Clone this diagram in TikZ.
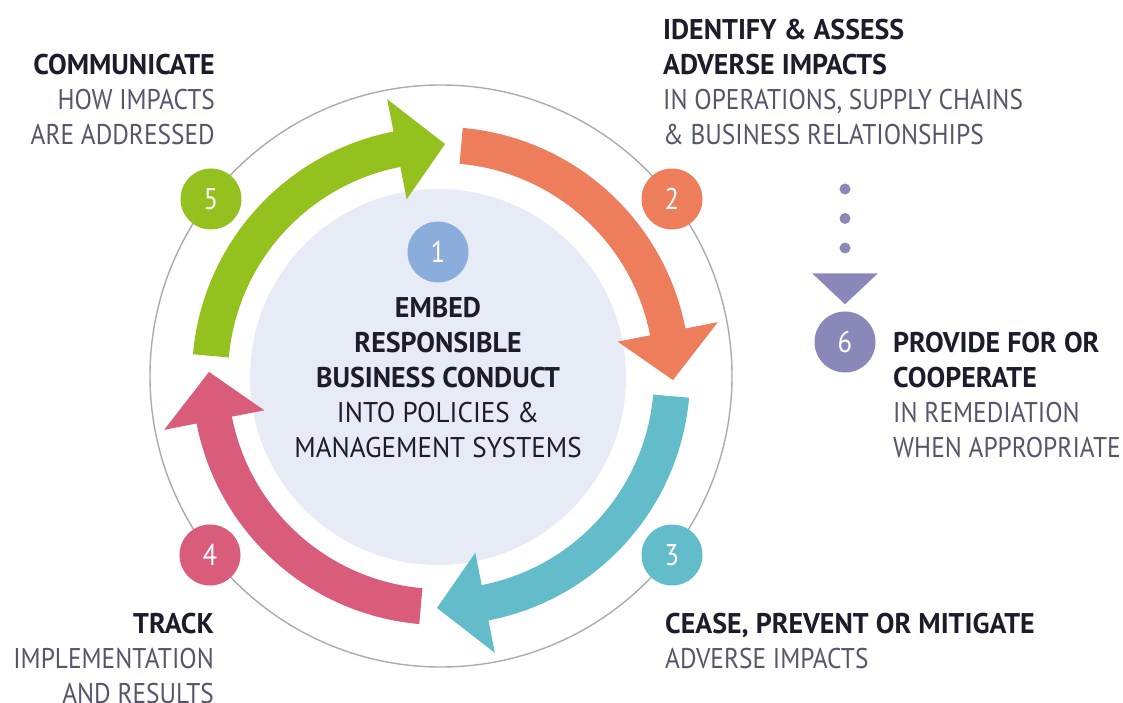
\documentclass[tikz,border=0pt]{standalone}
\usepackage{fontspec}
\setmainfont{PT Sans}[FakeStretch=0.89, BoldFeatures={FakeStretch=0.98}]
\newfontfamily\midfont{PT Sans}[FakeStretch=0.95]
\usepackage{xcolor}
\usetikzlibrary{arrows.meta, positioning, calc}
\definecolor{stepgreen}{HTML}{95C11F}
\definecolor{steporange}{HTML}{EE7D5B}
\definecolor{stepteal}{HTML}{62BCC9}
\definecolor{steppink}{HTML}{D95D7B}
\definecolor{stepblue}{HTML}{8AADDC}
\definecolor{steppurple}{HTML}{8A88B9}
\definecolor{discblue}{HTML}{E6EBF6}
\definecolor{ringgray}{HTML}{ABABAB}
\definecolor{headcol}{HTML}{1C1C2B}
\definecolor{bodycol}{HTML}{55566A}
\newcommand{\hd}[1]{{\bfseries\color{headcol}#1}}

\begin{document}
\begin{tikzpicture}[
    x=1pt, y=1pt,
    >={Triangle[width=64pt, length=31pt]},
    % Node styles
    num/.style={circle, minimum size=61pt, inner sep=0pt, text=white,
                font=\fontsize{30}{30}\selectfont},
    blurb/.style={font=\fontsize{28.5}{35}\selectfont, text=bodycol, inner sep=0pt},
    ring/.style={ringgray, line width=1.4pt},
    dots/.style={steppurple, line width=11pt, line cap=round, dash pattern=on 0pt off 29.5pt, ->}
]
\useasboundingbox (0,0) rectangle (1123,702);

\coordinate (c) at (441,326);

% Outer ring and inner disc
\draw[ring] (c) circle[radius=291pt];
\fill[discblue] (438,325) circle[radius=188pt];

% Cycle arrows
\foreach \a/\col [evaluate=\a as \b using \a-74, evaluate=\a as \t using \a-86]
    in {175/stepgreen, 85/steporange, -5/stepteal, -95/steppink}
    \fill[\col, shift={(c)}] (\a:249pt) arc[start angle=\a, end angle=\b, radius=249pt]
        -- (\b:282pt) -- (\t:232pt) -- (\b:180pt) -- (\b:213pt)
        arc[start angle=\b, end angle=\a, radius=213pt] -- cycle;

% Step numbers
\node (one) [num, fill=stepblue] at (438,450) {1};
\node (two) [num, fill=steporange] at (672,503) {2};
\node (three) [num, fill=stepteal] at (672,147) {3};
\node (four) [num, fill=steppink] at (210,147) {4};
\node (five) [num, fill=stepgreen] at (211,503) {5};
\node (six) [num, fill=steppurple] at (845,360) {6};

% Texts (anchored on the baseline of their last line)
\node (embed) [blurb, text=headcol, align=center, anchor=base] at (438,245)
    {\bfseries EMBED\\\bfseries RESPONSIBLE\\\bfseries BUSINESS CONDUCT\\\midfont INTO POLICIES \&\\\midfont MANAGEMENT SYSTEMS};
\node (communicate) [blurb, align=right, anchor=base east] at (215,557)
    {\hd{COMMUNICATE}\\HOW IMPACTS\\ARE ADDRESSED};
\node (identify) [blurb, align=left, anchor=base west] at (663,557)
    {\hd{IDENTIFY \& ASSESS}\\\hd{ADVERSE IMPACTS}\\IN OPERATIONS, SUPPLY CHAINS\\\& BUSINESS RELATIONSHIPS};
\node (provide) [blurb, align=left, anchor=base west] at (893,245)
    {\hd{PROVIDE FOR OR}\\\hd{COOPERATE}\\IN REMEDIATION\\WHEN APPROPRIATE};
\node (cease) [blurb, align=left, anchor=base west] at (665,34)
    {\hd{CEASE, PREVENT OR MITIGATE}\\ADVERSE IMPACTS};
\node (track) [blurb, align=right, anchor=base east] at (214,-1)
    {\hd{TRACK}\\IMPLEMENTATION\\AND RESULTS};

% Remediation link
\coordinate (dotstart) at (845,513);
\draw[dots, shorten >=7pt] (dotstart) -- (six);

\end{tikzpicture}
\end{document}
